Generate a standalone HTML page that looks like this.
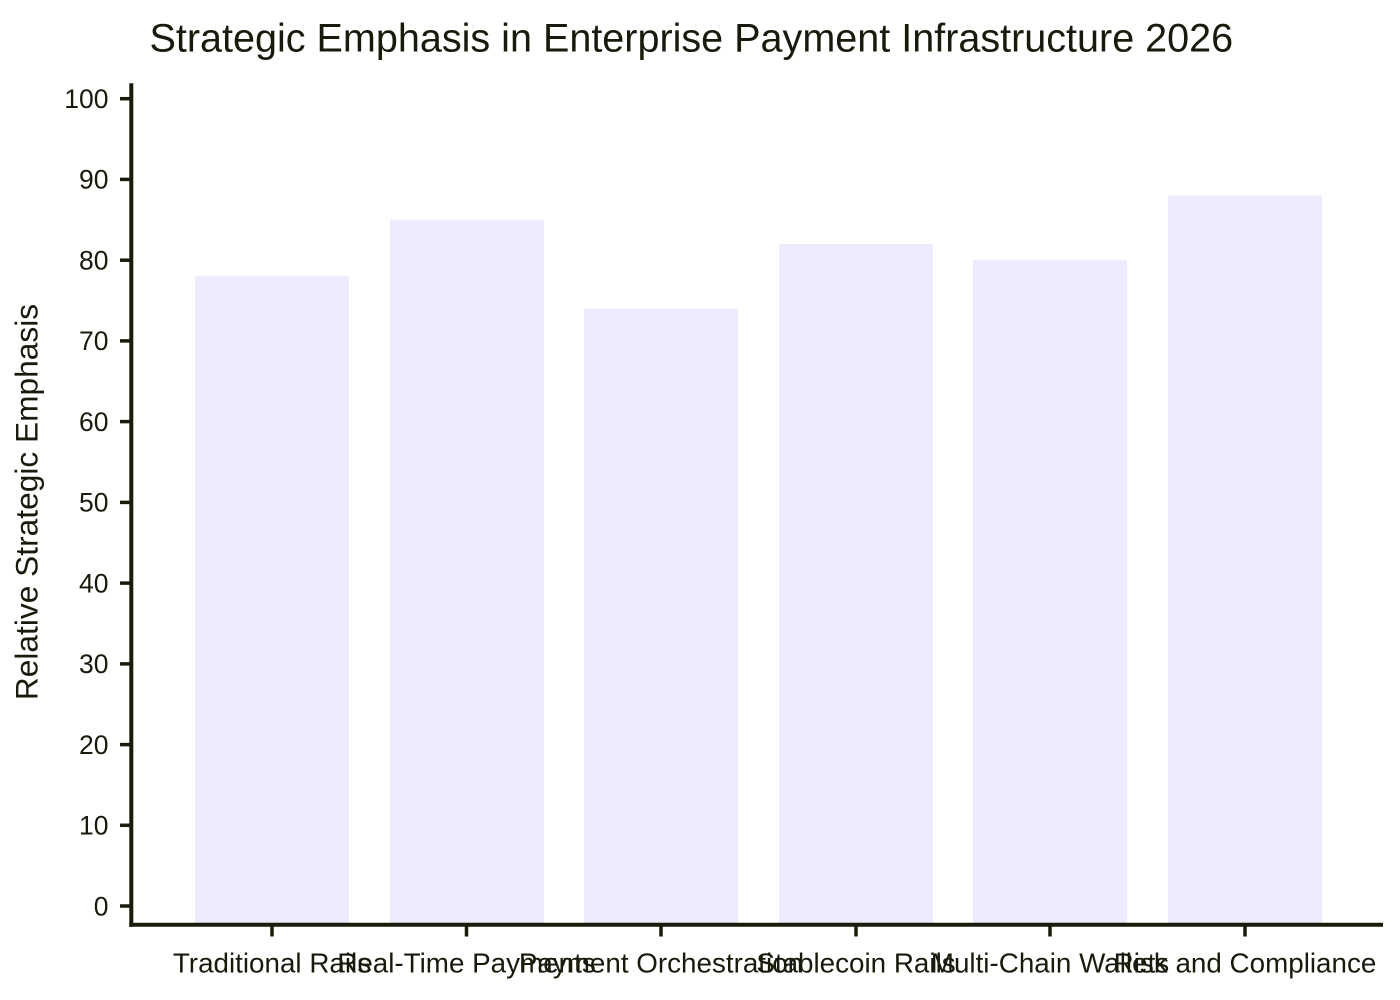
<!DOCTYPE html>
<html>
<head>
<meta charset="utf-8">
<style>
html,body{margin:0;padding:0;background:#fff;}
svg{display:block;}
text{font-family:"Liberation Sans",Arial,sans-serif;fill:#1a1a0c;}
</style>
</head>
<body>
<svg width="1400" height="1000" viewBox="0 0 1400 1000" xmlns="http://www.w3.org/2000/svg">
<rect x="0" y="0" width="1400" height="1000" fill="#ffffff"/>
<text x="149.5" y="51.5" font-size="39.55">Strategic Emphasis in Enterprise Payment Infrastructure 2026</text>

<!-- bars -->
<g fill="#eceafc">
<rect x="195" y="276.3" width="154" height="646.7"/>
<rect x="390" y="219.8" width="154" height="703.2"/>
<rect x="584" y="308.6" width="154" height="614.4"/>
<rect x="779" y="244.0" width="154" height="679"/>
<rect x="973" y="260.2" width="154" height="662.8"/>
<rect x="1168" y="195.6" width="154" height="727.4"/>
</g>

<!-- axes -->
<g stroke="#1b1b0c" fill="none">
<line x1="131.3" y1="83.3" x2="131.3" y2="926.7" stroke-width="4"/>
<line x1="129.3" y1="924.7" x2="1383" y2="924.7" stroke-width="4"/>
<g stroke-width="3.5">
<line x1="120" y1="98.7" x2="131" y2="98.7"/>
<line x1="120" y1="179.4" x2="131" y2="179.4"/>
<line x1="120" y1="260.2" x2="131" y2="260.2"/>
<line x1="120" y1="340.9" x2="131" y2="340.9"/>
<line x1="120" y1="421.6" x2="131" y2="421.6"/>
<line x1="120" y1="502.4" x2="131" y2="502.4"/>
<line x1="120" y1="583.1" x2="131" y2="583.1"/>
<line x1="120" y1="663.9" x2="131" y2="663.9"/>
<line x1="120" y1="744.6" x2="131" y2="744.6"/>
<line x1="120" y1="825.3" x2="131" y2="825.3"/>
<line x1="120" y1="906.0" x2="131" y2="906.0"/>
</g>
<g stroke-width="3.5">
<line x1="272" y1="926" x2="272" y2="936.5"/>
<line x1="466.5" y1="926" x2="466.5" y2="936.5"/>
<line x1="661" y1="926" x2="661" y2="936.5"/>
<line x1="856" y1="926" x2="856" y2="936.5"/>
<line x1="1050" y1="926" x2="1050" y2="936.5"/>
<line x1="1245" y1="926" x2="1245" y2="936.5"/>
</g>
</g>

<!-- y tick labels -->
<g font-size="26.5" text-anchor="end">
<text x="108.5" y="108">100</text>
<text x="108.5" y="188.7">90</text>
<text x="108.5" y="269.5">80</text>
<text x="108.5" y="350.2">70</text>
<text x="108.5" y="430.9">60</text>
<text x="108.5" y="511.7">50</text>
<text x="108.5" y="592.4">40</text>
<text x="108.5" y="673.2">30</text>
<text x="108.5" y="753.9">20</text>
<text x="108.5" y="834.6">10</text>
<text x="108.5" y="915.3">0</text>
</g>

<!-- x labels -->
<g font-size="27.8" text-anchor="middle">
<text x="272" y="972.5">Traditional Rails</text>
<text x="466.5" y="972.5">Real-Time Payments</text>
<text x="661" y="972.5">Payment Orchestration</text>
<text x="856" y="972.5">Stablecoin Rails</text>
<text x="1050" y="972.5">Multi-Chain Wallets</text>
<text x="1245" y="972.5">Risk and Compliance</text>
</g>

<!-- y label -->
<text transform="translate(37.5,502) rotate(-90)" font-size="31.7" text-anchor="middle">Relative Strategic Emphasis</text>
</svg>
</body>
</html>
